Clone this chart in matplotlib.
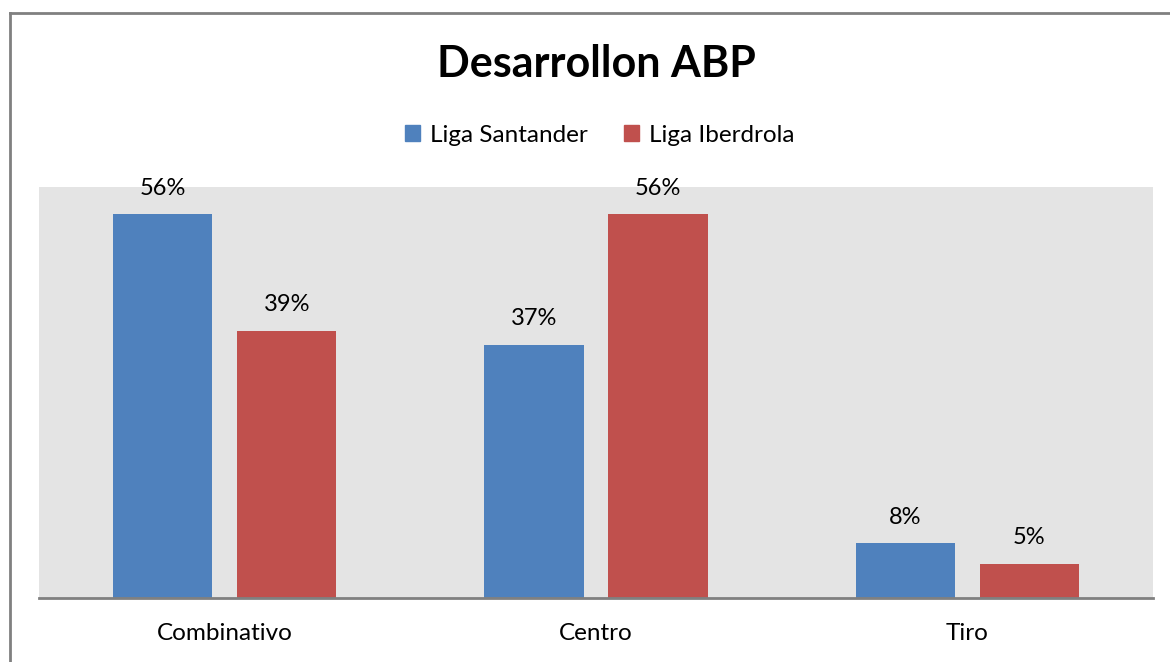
import matplotlib
matplotlib.use("Agg")
import matplotlib.pyplot as plt
import numpy as np
from matplotlib.patches import Rectangle
from matplotlib.lines import Line2D

categories = ["Combinativo", "Centro", "Tiro"]
series_names = ["Liga Santander", "Liga Iberdrola"]
santander = [56, 37, 8]
iberdrola = [39, 56, 5]
colors = ["#4F81BD", "#C0504D"]

plt.rcParams['font.family'] = ['Lato', 'DejaVu Sans']

fig = plt.figure(figsize=(11.7, 6.62), dpi=100)
W, H = 1170, 662

# Outer frame lines (left and top)
fig.add_artist(Line2D([9.5 / W, 9.5 / W], [0, 1 - 12.5 / H], transform=fig.transFigure, color="#808080", lw=2))
fig.add_artist(Line2D([9.5 / W, 1], [1 - 12.5 / H, 1 - 12.5 / H], transform=fig.transFigure, color="#808080", lw=2))

ax = fig.add_axes([39 / W, 1 - 598 / H, (1153 - 39) / W, (598 - 187) / H])
ax.set_facecolor("#E4E4E4")

x = np.arange(len(categories))
bw = 0.267
gap = 0.067
off = (bw + gap) / 2
for vals, c, name, sgn in [(santander, colors[0], series_names[0], -1), (iberdrola, colors[1], series_names[1], 1)]:
    bars = ax.bar(x + sgn * off, vals, width=bw, color=c, label=name, zorder=2)
    for b, v in zip(bars, vals):
        ax.annotate(f"{v}%", (b.get_x() + b.get_width() / 2, v), xytext=(0, 26),
                    textcoords="offset pixels", ha="center", va="center",
                    fontsize=17, color="black", annotation_clip=False)

ax.set_xlim(-0.5, 2.5)
ax.set_ylim(0, 60)
ax.set_yticks([])
ax.set_xticks(x)
ax.set_xticklabels(categories, fontsize=17.5)
ax.tick_params(axis="x", length=0, pad=18)
for s in ["top", "right", "left"]:
    ax.spines[s].set_visible(False)
ax.spines["bottom"].set_color("#808080")
ax.spines["bottom"].set_linewidth(2)

fig.text(596 / W, 1 - 64 / H, "Desarrollon ABP", ha="center", va="center", fontsize=31, fontweight="bold")

handles = [Rectangle((0, 0), 1, 1, color=c) for c in colors]
fig.legend(handles, series_names, loc="center", bbox_to_anchor=(600 / W, 1 - 135 / H), ncol=2,
           frameon=False, fontsize=17.5, handlelength=0.62, handleheight=0.62, handletextpad=0.4,
           columnspacing=1.5)

fig.savefig("out.png", dpi=100, facecolor="white")
